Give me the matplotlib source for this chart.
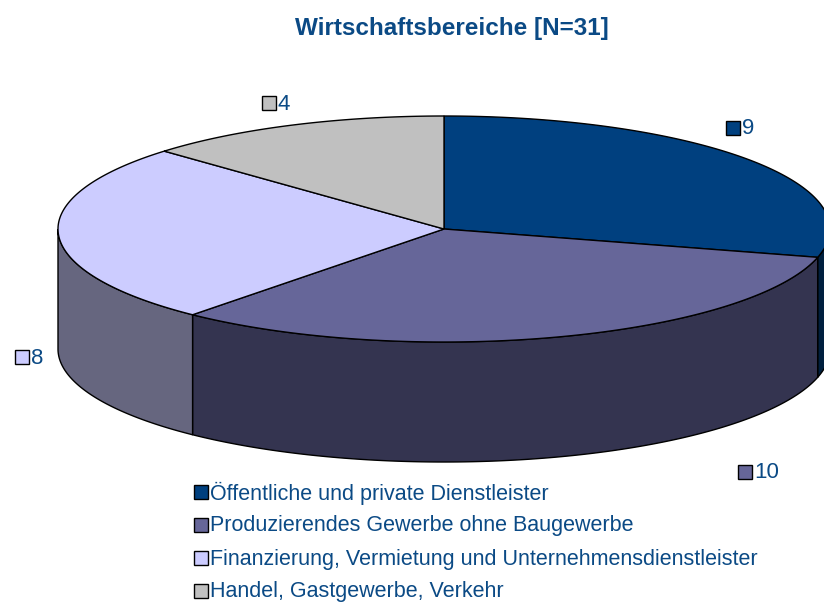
import numpy as np
import matplotlib
matplotlib.use("Agg")
import matplotlib.pyplot as plt
from matplotlib.patches import Polygon

# ---- data ----
title = "Wirtschaftsbereiche [N=31]"
categories = [
    "Öffentliche und private Dienstleister",
    "Produzierendes Gewerbe ohne Baugewerbe",
    "Finanzierung, Vermietung und Unternehmensdienstleister",
    "Handel, Gastgewerbe, Verkehr",
]
values = [9, 10, 8, 4]

# ---- styles ----
top_colors = ["#00407F", "#666699", "#CCCCFF", "#C0C0C0"]
side_colors = ["#00203F", "#343450", "#66667F", "#808080"]
text_color = "#0B4A85"
plt.rcParams["font.family"] = ["Liberation Sans", "DejaVu Sans"]

W, H = 824, 603
fig = plt.figure(figsize=(W / 100, H / 100), dpi=100)
ax = fig.add_axes([0, 0, 1, 1])
ax.set_xlim(0, W)
ax.set_ylim(H, 0)
ax.axis("off")

cx, cy, rx, ry, depth = 444, 229, 386, 113, 120


def pt(theta_deg, dy=0.0):
    t = np.radians(theta_deg)
    return cx + rx * np.cos(t), cy - ry * np.sin(t) + dy


total = float(sum(values))
angles = [90.0]
for v in values:
    angles.append(angles[-1] - 360.0 * v / total)

# side walls (front half only: angles in [180+360k, 360+360k])
for i in range(len(values)):
    a, b = angles[i], angles[i + 1]  # a > b
    for k in range(-3, 3):
        lo, hi = 180 + 360 * k, 360 + 360 * k
        s, e = max(b, lo), min(a, hi)
        if e - s > 1e-6:
            th = np.linspace(e, s, 200)
            xs, ys = pt(th)
            top = np.column_stack([xs, ys])
            bot = np.column_stack([xs, ys + depth])[::-1]
            ax.add_patch(Polygon(np.vstack([top, bot]), closed=True,
                                 facecolor=side_colors[i], edgecolor="black",
                                 linewidth=1.0, zorder=2))

# top faces
for i in range(len(values)):
    a, b = angles[i], angles[i + 1]
    th = np.linspace(a, b, 300)
    xs, ys = pt(th)
    poly = np.vstack([[cx, cy], np.column_stack([xs, ys])])
    ax.add_patch(Polygon(poly, closed=True, facecolor=top_colors[i],
                         edgecolor="black", linewidth=1.0, zorder=3))

# title
ax.text(452, 29, title, ha="center", va="center", fontsize=17.5,
        fontweight="bold", color=text_color, zorder=5)

# value labels (marker center positions)
label_pos = [(733, 128), (745, 472), (22, 357), (269, 103)]
for i, (x, y) in enumerate(label_pos):
    ax.plot(x, y, marker="s", markersize=10, markerfacecolor=top_colors[i],
            markeredgecolor="black", markeredgewidth=1.0, zorder=5,
            clip_on=False)
    ax.text(x + 9, y + 1, str(values[i]), ha="left", va="center",
            fontsize=16, color=text_color, zorder=5)

# legend
for i, cat in enumerate(categories):
    y = 492 + 33 * i
    ax.plot(201, y, marker="s", markersize=10, markerfacecolor=top_colors[i],
            markeredgecolor="black", markeredgewidth=1.0, zorder=5,
            clip_on=False)
    ax.text(210, y + 1, cat, ha="left", va="center", fontsize=15.5,
            color=text_color, zorder=5)

fig.savefig("out.png", dpi=100)
